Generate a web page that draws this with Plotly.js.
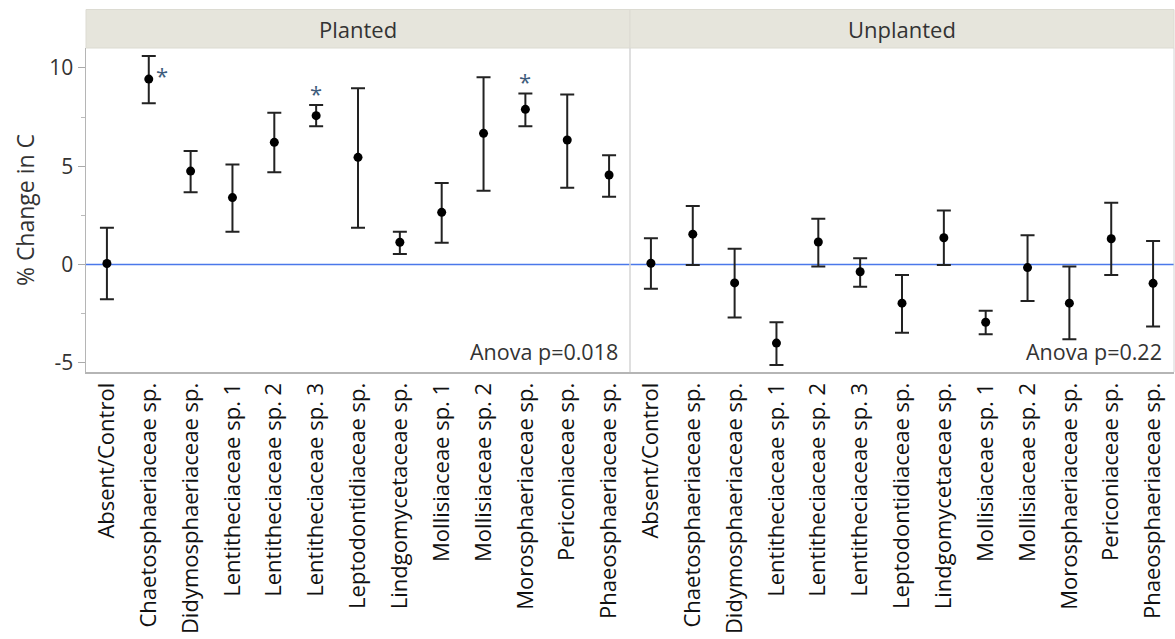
<!DOCTYPE html>
<html>
<head>
<meta charset="utf-8">
<script src="https://cdn.plot.ly/plotly-3.0.1.min.js"></script>
<style>html,body{margin:0;padding:0;background:#fff;}#chart{width:1175px;height:639px;}</style>
</head>
<body>
<div id="chart"></div>
<script>
const categories = ["Absent/Control","Chaetosphaeriaceae sp.","Didymosphaeriaceae sp.","Lentitheciaceae sp. 1","Lentitheciaceae sp. 2","Lentitheciaceae sp. 3","Leptodontidiaceae sp.","Lindgomycetaceae sp.","Mollisiaceae sp. 1","Mollisiaceae sp. 2","Morosphaeriaceae sp.","Periconiaceae sp.","Phaeosphaeriaceae sp."];
const panels = ["Planted","Unplanted"];
const plantedMean  = [0.05, 9.43, 4.75, 3.40, 6.21, 7.57, 5.45, 1.13, 2.65, 6.67, 7.89, 6.33, 4.55];
const plantedUpper = [1.87, 10.60, 5.77, 5.09, 7.72, 8.11, 8.96, 1.67, 4.14, 9.52, 8.70, 8.65, 5.55];
const plantedLower = [-1.77, 8.20, 3.67, 1.67, 4.69, 7.03, 1.87, 0.53, 1.11, 3.75, 7.03, 3.90, 3.45];
const unplantedMean  = [0.06, 1.54, -0.94, -4.00, 1.14, -0.37, -1.97, 1.36, -2.94, -0.16, -1.97, 1.31, -0.96];
const unplantedUpper = [1.33, 2.97, 0.80, -2.94, 2.33, 0.31, -0.53, 2.74, -2.35, 1.48, -0.11, 3.14, 1.19];
const unplantedLower = [-1.23, -0.03, -2.70, -5.11, -0.11, -1.14, -3.47, -0.03, -3.55, -1.86, -3.80, -0.53, -3.16];
const significant = ["Chaetosphaeriaceae sp.","Lentitheciaceae sp. 3","Morosphaeriaceae sp."];
const anovaLabels = ["Anova p=0.018","Anova p=0.22"];
const yTickVals = [-5, 0, 5, 10];
const yTickText = ["-5", "0", "5", "10"];

const FONT = "Open Sans, Noto Sans, sans-serif";
const TXT = "#333333";

function trace(mean, upper, lower, xa) {
  return {
    type: "scatter", mode: "markers",
    x: categories, y: mean, xaxis: xa, yaxis: "y",
    marker: {color: "#000", size: 9},
    error_y: {type: "data", symmetric: false,
      array: upper.map((u,i)=>u-mean[i]),
      arrayminus: lower.map((l,i)=>mean[i]-l),
      color: "#222", thickness: 2, width: 7},
    hoverinfo: "x+y", showlegend: false
  };
}

const data = [
  trace(plantedMean, plantedUpper, plantedLower, "x"),
  trace(unplantedMean, unplantedUpper, unplantedLower, "x2")
];

const stripTop = 1 + (48 - 9.5) / 324;

const shapes = [
  {type:"rect", xref:"paper", yref:"paper", x0:0, x1:0.5, y0:1, y1:stripTop, fillcolor:"#e6e5dc", line:{width:1, color:"#dcdbd2"}, layer:"below"},
  {type:"rect", xref:"paper", yref:"paper", x0:0.5, x1:1, y0:1, y1:stripTop, fillcolor:"#e6e5dc", line:{width:1, color:"#dcdbd2"}, layer:"below"},
  {type:"line", xref:"paper", yref:"paper", x0:0.5, x1:0.5, y0:0, y1:1, line:{color:"#d4d4d4", width:1.5}},
  {type:"line", xref:"paper", yref:"paper", x0:1, x1:1, y0:0, y1:1, line:{color:"#d4d4d4", width:1}},
  {type:"line", xref:"paper", yref:"y", x0:0, x1:1, y0:0, y1:0, line:{color:"#4a78ea", width:1.5}, layer:"below"}
];

const annotations = [];
panels.forEach((p, i) => {
  annotations.push({xref:"paper", yref:"paper", x: i*0.5 + 0.25, y: (1+stripTop)/2, text: p, showarrow:false,
    xanchor:"center", yanchor:"middle", font:{family:FONT, size:22, color:TXT}});
  annotations.push({xref: i===0 ? "x domain" : "x2 domain", yref:"paper", x:1, y:(372-351.5)/324, xshift:-10,
    text: anovaLabels[i], showarrow:false, xanchor:"right", yanchor:"middle", font:{family:FONT, size:21.5, color:TXT}});
});
significant.forEach(c => {
  const idx = categories.indexOf(c);
  const side = idx === 1;
  annotations.push({xref:"x", yref:"y", x:c, y: side ? plantedMean[idx] : plantedUpper[idx],
    xshift: side ? 13 : 0, yshift: side ? 4 : 12, text:"*", showarrow:false,
    xanchor:"center", yanchor:"middle", font:{family:FONT, size:22, color:"#3e5c7c"}});
});

const xaxisBase = {
  type:"category", categoryorder:"array", categoryarray: categories,
  range:[-0.5, 12.5], tickangle:-90, ticks:"", showgrid:false, zeroline:false,
  showline:true, linecolor:"#b5b5b5", linewidth:2,
  tickfont:{family:FONT, size:22, color:"#111"}, fixedrange:true
};

const layout = {
  width:1175, height:639,
  margin:{l:86, r:1, t:48, b:267},
  paper_bgcolor:"#fff", plot_bgcolor:"#fff",
  font:{family:FONT, color:TXT},
  xaxis: Object.assign({}, xaxisBase, {domain:[0,0.5], anchor:"y"}),
  xaxis2: Object.assign({}, xaxisBase, {domain:[0.5,1], anchor:"y"}),
  yaxis: {
    range:[-5.47, 11.01], tickmode:"array", tickvals: yTickVals, ticktext: yTickText,
    ticks:"outside", ticklen:7, tickcolor:"#aaa", tickwidth:1,
    minor:{dtick:2.5, tick0:0, ticks:"outside", ticklen:4, tickcolor:"#bbb"},
    showgrid:false, zeroline:false, showline:true, linecolor:"#b5b5b5", linewidth:1.5,
    tickfont:{family:FONT, size:21, color:TXT},
    title:{text:"% Change in C", font:{family:FONT, size:23, color:TXT}, standoff:8}
  },
  shapes: shapes,
  annotations: annotations,
  showlegend:false
};

Plotly.newPlot("chart", data, layout, {displayModeBar:false, staticPlot:true});
</script>
</body>
</html>
